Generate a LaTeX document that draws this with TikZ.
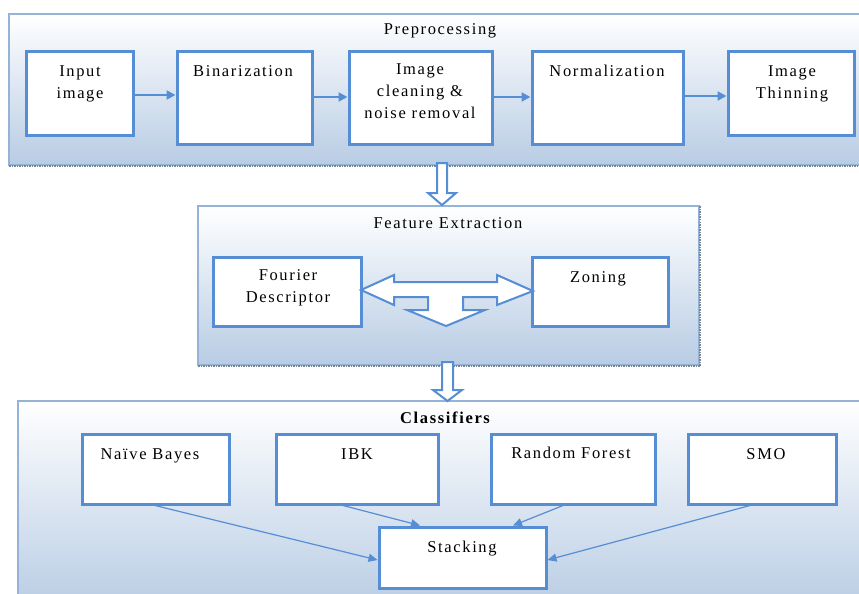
\documentclass[tikz,border=0pt]{standalone}
\usepackage{fontspec}
\setmainfont[LetterSpace=10]{Liberation Serif}
\usetikzlibrary{arrows.meta}
\definecolor{boxblue}{RGB}{85,142,213}
\definecolor{panelblue}{RGB}{184,204,228}
\definecolor{panelborder}{RGB}{149,179,215}
\definecolor{shadowgray}{RGB}{120,135,150}
\tikzset{
  panel/.style={top color=white, middle color=panelblue!45!white, bottom color=panelblue, draw=panelborder, line width=1.2pt},
  pbox/.style={draw=boxblue, fill=white, line width=3pt, inner sep=0pt},
  lbl/.style={anchor=base, inner sep=0pt, font=\fontsize{16.5}{22}\selectfont, align=center},
  parrow/.style={draw=boxblue, line width=2pt, -{Triangle[length=9pt,width=9pt]}},
  carrow/.style={draw=boxblue, line width=1.2pt, -{Triangle[length=9pt,width=8pt]}},
  blockarrow/.style={draw=boxblue, fill=white, line width=2pt, line join=miter},
  shadowline/.style={draw=shadowgray, line width=1.5pt, densely dotted}
}
\begin{document}
\begin{tikzpicture}[x=1pt,y=-1pt]
\useasboundingbox (0,0) rectangle (859,594);
% panels
\path[panel] (9,14) rectangle (875,165);
\draw[shadowline] (9,166) -- (859,166);
\path[panel] (198,206) rectangle (699,365);
\draw[shadowline] (198,366) -- (700,366) -- (700,206);
\path[panel] (18,401) rectangle (875,610);
% panel titles
\node[lbl] (tpre) at (440,35) {Preprocessing};
\node[lbl] (tfe) at (448,228) {Feature Extraction};
\node[lbl, font=\fontsize{16.5}{22}\bfseries] (tcl) at (445,423) {Classifiers};
% preprocessing boxes
\node[pbox, minimum width=107pt, minimum height=83pt] (in) at (79.5,93.5) {};
\node[pbox, minimum width=135pt, minimum height=92pt] (bin) at (244.5,98) {};
\node[pbox, minimum width=143pt, minimum height=92pt] (cln) at (420.5,98) {};
\node[pbox, minimum width=151pt, minimum height=92pt] (nrm) at (607.5,98) {};
\node[pbox, minimum width=126pt, minimum height=83pt] (thn) at (791,93.5) {};
\node[lbl] (tin) at (80,98) {Input\\image};
\node[lbl] (tbin) at (243,76) {Binarization};
\node[lbl] (tcln) at (420,118) {Image\\cleaning \&\\noise removal};
\node[lbl] (tnrm) at (607,76) {Normalization};
\node[lbl] (tthn) at (792,98) {Image\\Thinning};
% preprocessing arrows
\coordinate (y1) at (0,95);
\coordinate (y2) at (0,97);
\coordinate (y3) at (0,96);
\draw[parrow] (in.east |- y1) -- (bin.west |- y1);
\draw[parrow] (bin.east |- y2) -- (cln.west |- y2);
\draw[parrow] (cln.east |- y2) -- (nrm.west |- y2);
\draw[parrow] (nrm.east |- y3) -- (thn.west |- y3);
% block arrow preprocessing -> feature extraction
\draw[blockarrow] (437,163) -- (437,193) -- (428,193) -- (442,205) -- (456,193) -- (447,193) -- (447,163) -- cycle;
% feature boxes
\node[pbox, minimum width=148pt, minimum height=69pt] (fou) at (287,291.5) {};
\node[pbox, minimum width=136pt, minimum height=69pt] (zon) at (600,291.5) {};
\node[lbl] (tfou) at (288,302) {Fourier\\Descriptor};
\node[lbl] (tzon) at (598,282) {Zoning};
% three-way arrow
\draw[blockarrow] (361,290) -- (394,275) -- (394,282) -- (497,282) -- (497,275) -- (533,291) -- (497,305) -- (497,297) -- (463,297) -- (463,310) -- (485,310) -- (446,326) -- (407,310) -- (428,310) -- (428,297) -- (394,297) -- (394,305) -- cycle;
% block arrow feature -> classifiers
\draw[blockarrow] (442,362) -- (442,390) -- (433,390) -- (447.5,401) -- (462,390) -- (453,390) -- (453,362) -- cycle;
% classifier boxes
\node[pbox, minimum width=147pt, minimum height=70pt] (nb) at (155.5,469) {};
\node[pbox, minimum width=162pt, minimum height=70pt] (ibk) at (357,469) {};
\node[pbox, minimum width=164pt, minimum height=70pt] (rf) at (573,469) {};
\node[pbox, minimum width=148pt, minimum height=70pt] (smo) at (762,469) {};
\node[pbox, minimum width=167pt, minimum height=61pt] (stk) at (462.5,557.5) {};
\node[lbl] (tnb) at (150,459) {Naïve Bayes};
\node[lbl] (tibk) at (357,459) {IBK};
\node[lbl] (trf) at (571,458) {Random Forest};
\node[lbl] (tsmo) at (766,459) {SMO};
\node[lbl] (tstk) at (462,552) {Stacking};
% classifier connectors
\coordinate (s1) at (155,0);
\coordinate (s2) at (343,0);
\coordinate (s3) at (563,0);
\coordinate (s4) at (750,0);
\coordinate (e2) at (420,0);
\coordinate (e3) at (513,0);
\coordinate (ey) at (0,560);
\draw[carrow] (nb.south -| s1) -- (stk.west |- ey);
\draw[carrow] (ibk.south -| s2) -- (stk.north -| e2);
\draw[carrow] (rf.south -| s3) -- (stk.north -| e3);
\draw[carrow] (smo.south -| s4) -- (stk.east |- ey);
\end{tikzpicture}
\end{document}
